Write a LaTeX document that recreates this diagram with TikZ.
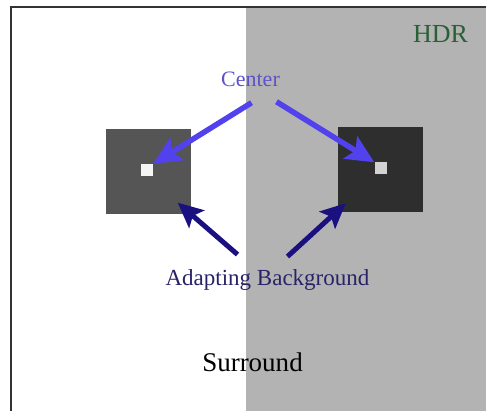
\documentclass[tikz,border=0pt]{standalone}
\usepackage{fontspec}
\setmainfont{Liberation Serif}
\usetikzlibrary{arrows.meta}

\definecolor{surroundgray}{HTML}{B3B3B3}
\definecolor{leftbgcol}{HTML}{555555}
\definecolor{rightbgcol}{HTML}{2E2E2E}
\definecolor{centerblue}{HTML}{5242EE}
\definecolor{centertext}{HTML}{5E52CC}
\definecolor{adaptnavy}{HTML}{1A1080}
\definecolor{adapttext}{HTML}{2A2268}
\definecolor{hdrgreen}{HTML}{2A6036}

\tikzset{
  bgsq/.style={draw=none, minimum size=85pt, inner sep=0pt},
  ctrsq/.style={draw=none, minimum size=12pt, inner sep=0pt},
  centerarrow/.style={line width=5.5pt, centerblue, -{Stealth[length=28pt,width=26pt,inset=6pt]}},
  adaptarrow/.style={line width=5pt, adaptnavy, -{Stealth[length=25pt,width=23pt,inset=5pt]}},
}

\begin{document}
\begin{tikzpicture}[x=1pt,y=-1pt]
    \useasboundingbox (0,0) rectangle (486,411);
    \fill[white] (0,0) rectangle (486,411);
    \fill[surroundgray] (246,7) rectangle (486,411);
    \draw[line width=1.2pt, black!80] (11,411) -- (11,7) -- (486,7);

    % adapting backgrounds and centers
    \node[bgsq, fill=leftbgcol] (leftbg) at (148,172) {};
    \node[bgsq, fill=rightbgcol] (rightbg) at (380.5,169.5) {};
    \node[ctrsq, fill=white!92!gray] (leftc) at (147,170) {};
    \node[ctrsq, fill=gray!35] (rightc) at (380.5,168.5) {};

    % labels
    \node[anchor=base, text=centertext, font=\fontsize{22}{26}\selectfont] (center) at (250.5,87) {Center};
    \node[anchor=base, text=hdrgreen, font=\fontsize{26}{30}\selectfont] (hdr) at (440.5,42.5) {HDR};
    \node[anchor=base, text=adapttext, font=\fontsize{23}{27}\selectfont] (adapt) at (267.5,285) {Adapting Background};
    \node[anchor=base, font=\fontsize{27}{31}\selectfont] (surround) at (252.5,371) {Surround};

    \draw[centerarrow] ([xshift=1pt,yshift=-12pt]center.south) -- (leftc.north east);
    \draw[centerarrow] ([xshift=26pt,yshift=-11pt]center.south) -- (rightc.north west);
    \draw[adaptarrow] ([xshift=-30pt,yshift=11pt]adapt.north) -- ([xshift=-13pt,yshift=12pt]leftbg.south east);
    \draw[adaptarrow] ([xshift=20pt,yshift=9pt]adapt.north) -- ([xshift=8pt,yshift=9pt]rightbg.south west);
\end{tikzpicture}
\end{document}
